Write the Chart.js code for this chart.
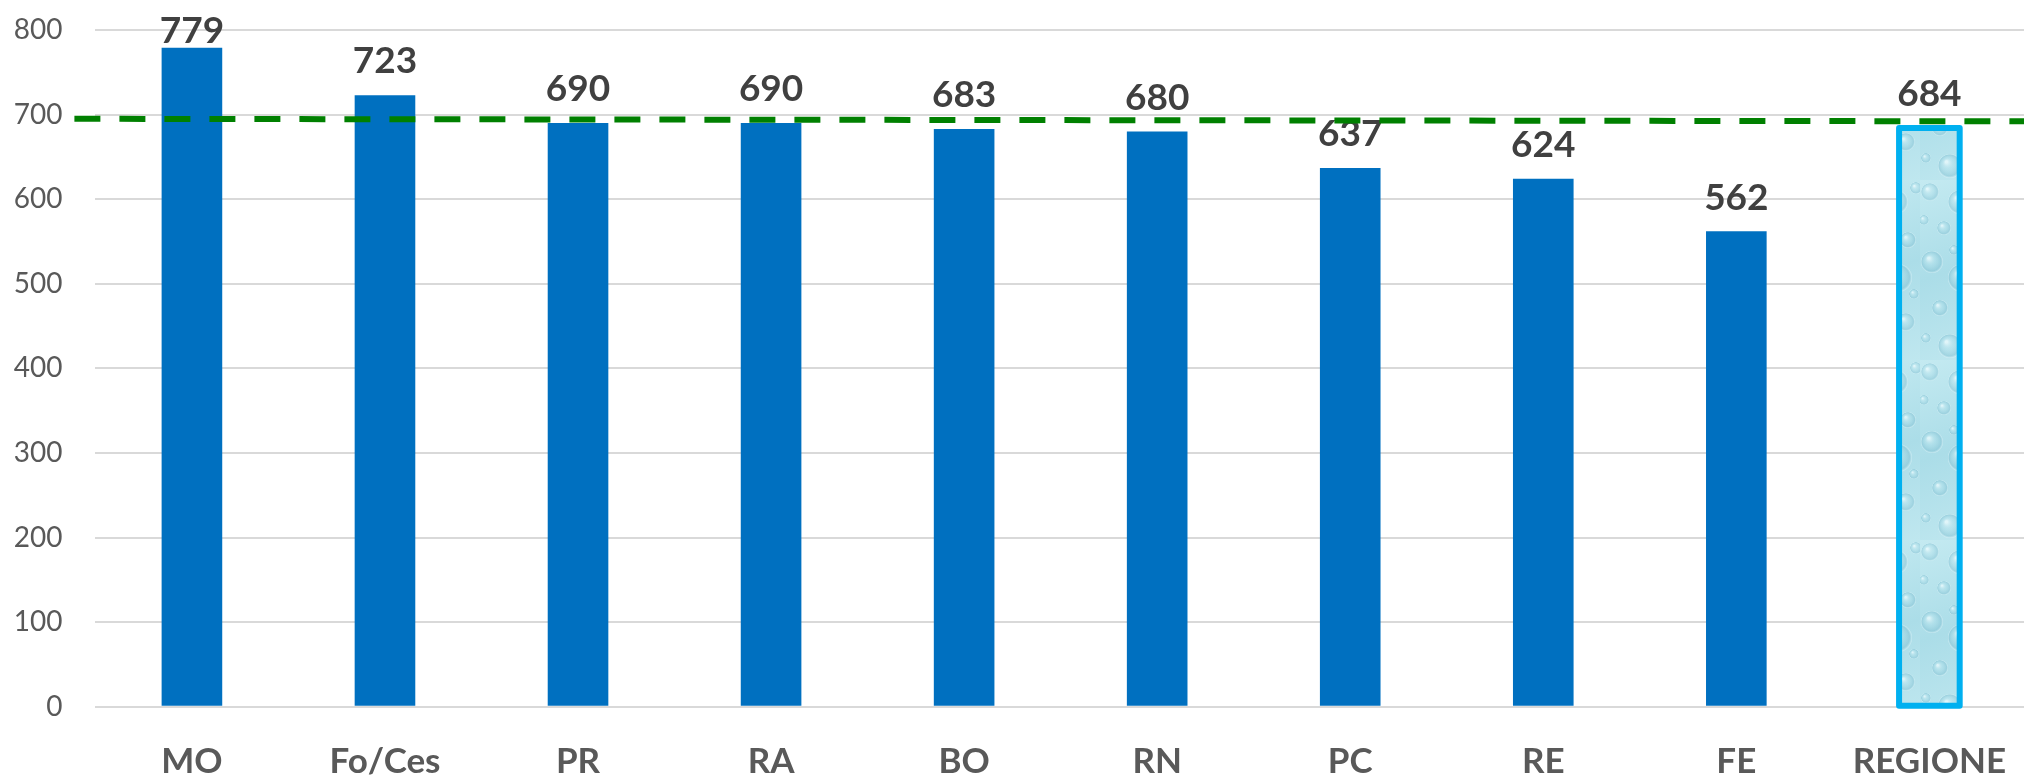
<!DOCTYPE html>
<html>
<head>
<meta charset="utf-8">
<script src="https://cdn.jsdelivr.net/npm/chart.js@4/dist/chart.umd.min.js"></script>
<style>
  html, body { margin: 0; padding: 0; background: #ffffff; overflow: hidden; }
  #wrap { width: 2024px; height: 779px; overflow: hidden; position: relative; }
  canvas { display: block; }
</style>
</head>
<body>
<div id="wrap"><canvas id="chart" width="2040" height="779"></canvas></div>
<script>
// Province codes and the regional total
const categories = ['MO', 'Fo/Ces', 'PR', 'RA', 'BO', 'RN', 'PC', 'RE', 'FE', 'REGIONE'];
const values = [779, 723, 690, 690, 683, 680, 637, 624, 562, 684];
const yTicks = [0, 100, 200, 300, 400, 500, 600, 700, 800];
// Dashed reference line: value at its left end and at its right end
const referenceLine = [695, 692];
const highlighted = 'REGIONE';

const BAR_BLUE = '#0070C0';
const FONT = 'Lato, "Open Sans", "Liberation Sans", sans-serif';

// Light aqua "water drops" fill used for the regional bar
function waterPattern(targetCtx) {
  const w = 64, h = 180;
  const p = document.createElement('canvas');
  p.width = w; p.height = h;
  const g = p.getContext('2d');
  const bg = g.createLinearGradient(0, 0, w, h);
  bg.addColorStop(0, '#c4eaf1');
  bg.addColorStop(0.5, '#abdde8');
  bg.addColorStop(1, '#bfe7ef');
  g.fillStyle = bg;
  g.fillRect(0, 0, w, h);
  const drops = [
    [10, 12, 9], [40, 22, 12], [24, 48, 7], [52, 60, 8], [12, 82, 11],
    [42, 98, 14], [20, 128, 8], [50, 142, 9], [30, 166, 12], [6, 158, 5],
    [58, 114, 5], [34, 70, 5], [60, 8, 6], [4, 40, 5]
  ];
  drops.forEach(([x, y, r]) => {
    const rg = g.createRadialGradient(x - r * 0.3, y - r * 0.35, r * 0.1, x, y, r);
    rg.addColorStop(0, 'rgba(240,252,254,0.7)');
    rg.addColorStop(0.45, 'rgba(170,220,232,0.3)');
    rg.addColorStop(0.85, 'rgba(120,185,205,0.4)');
    rg.addColorStop(1, 'rgba(225,246,250,0.6)');
    g.fillStyle = rg;
    g.beginPath();
    g.arc(x, y, r, 0, Math.PI * 2);
    g.fill();
  });
  return targetCtx.createPattern(p, 'repeat');
}

const canvas = document.getElementById('chart');
const ctx = canvas.getContext('2d');
const water = waterPattern(ctx);

const overlay = {
  id: 'overlay',
  afterDatasetsDraw(chart) {
    const { ctx, chartArea, scales } = chart;
    const meta = chart.getDatasetMeta(0);

    // Cyan frame around the regional bar
    meta.data.forEach((bar, i) => {
      if (categories[i] !== highlighted) return;
      const half = bar.width / 2;
      ctx.save();
      ctx.strokeStyle = '#00B0F0';
      ctx.lineWidth = 6;
      ctx.lineJoin = 'round';
      ctx.strokeRect(bar.x - half, bar.y, bar.width, bar.base - bar.y);
      ctx.restore();
    });

    // Value labels above the bars
    ctx.save();
    ctx.font = 'bold 37px ' + FONT;
    ctx.fillStyle = '#404040';
    ctx.textAlign = 'center';
    ctx.textBaseline = 'alphabetic';
    meta.data.forEach((bar, i) => {
      const y = Math.max(bar.y - 21.7, chartArea.top + 13);
      ctx.fillText(String(values[i]), bar.x, y);
    });
    ctx.restore();

    // Green dashed reference line, running past the left edge of the plot
    const y0 = scales.y.getPixelForValue(referenceLine[0]);
    const y1 = scales.y.getPixelForValue(referenceLine[1]);
    ctx.save();
    ctx.strokeStyle = '#008000';
    ctx.lineWidth = 6;
    ctx.setLineDash([26, 19]);
    ctx.lineCap = 'butt';
    ctx.beginPath();
    ctx.moveTo(chartArea.left - 21, y0);
    ctx.lineTo(chart.width, y1);
    ctx.stroke();
    ctx.restore();
  }
};

new Chart(ctx, {
  type: 'bar',
  data: {
    labels: categories,
    datasets: [{
      data: values,
      backgroundColor: categories.map(c => c === highlighted ? water : BAR_BLUE),
      borderWidth: 0,
      categoryPercentage: 1,
      barPercentage: 0.314
    }]
  },
  options: {
    responsive: false,
    animation: false,
    devicePixelRatio: 1,
    layout: { padding: { top: 30, right: 0, bottom: 0, left: 0 } },
    plugins: { legend: { display: false }, tooltip: { enabled: false } },
    scales: {
      x: {
        grid: { display: false, drawTicks: false },
        border: { display: false },
        ticks: {
          color: '#595959',
          font: { family: FONT, weight: 'bold', size: 35 },
          padding: 34,
          maxRotation: 0,
          autoSkip: false
        },
        afterFit(scale) { scale.height = 72.3; }
      },
      y: {
        min: yTicks[0],
        max: yTicks[yTicks.length - 1],
        afterBuildTicks(scale) { scale.ticks = yTicks.map(v => ({ value: v })); },
        ticks: {
          color: '#595959',
          font: { family: FONT, size: 28 },
          padding: 33
        },
        grid: { color: '#d9d9d9', lineWidth: 2, drawTicks: false },
        border: { display: false },
        afterFit(scale) {
          scale.width = 95.4;
          scale.paddingTop = 0;
          scale.paddingBottom = 0;
        }
      }
    }
  },
  plugins: [overlay]
});
</script>
</body>
</html>
